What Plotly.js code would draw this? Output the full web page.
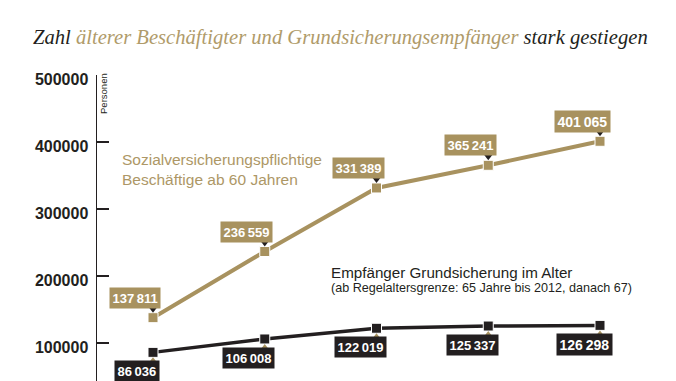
<!DOCTYPE html>
<html><head><meta charset="utf-8">
<script src="https://cdn.plot.ly/plotly-3.0.1.min.js"></script>
<style>html,body{margin:0;padding:0;background:#fff}</style>
</head><body><div id="chart" style="width:676px;height:381px"></div>
<script>
// Data
const categories = ['P1', 'P2', 'P3', 'P4', 'P5'];
const beschaeftigte = [137811, 236559, 331389, 365241, 401065];
const grundsicherung = [86036, 106008, 122019, 125337, 126298];
const yTickVals = [100000, 200000, 300000, 400000, 500000];
const yTickText = ['100000', '200000', '300000', '400000', '500000'];

const GOLD = '#a8925f';
const GOLD_TXT = '#ad9766';
const BLACK = '#231f20';
const SANS = '"Liberation Sans", Arial, sans-serif';

const W = 676, H = 381, ML = 97, MT = 75, MB = 0, MR = 0;
const yMin = 43300, yMax = 500000;
const plotH = H - MT - MB;
const unitsPerPx = (yMax - yMin) / plotH;
const xIdx = categories.map((c, i) => i);

function fmt(v) {
  const s = String(v);
  return s.slice(0, s.length - 3) + '\u2009' + s.slice(-3);
}

const traces = [
  {x: xIdx, y: beschaeftigte, mode: 'lines', line: {color: GOLD, width: 4}, hoverinfo: 'skip'},
  {x: xIdx, y: grundsicherung, mode: 'lines', line: {color: BLACK, width: 3.5}, hoverinfo: 'skip'},
  {x: xIdx, y: beschaeftigte, mode: 'markers', marker: {symbol: 'square', size: 10, color: GOLD, line: {color: '#fff', width: 1}}, hoverinfo: 'skip'},
  {x: xIdx, y: grundsicherung, mode: 'markers', marker: {symbol: 'square', size: 10, color: BLACK, line: {color: '#fff', width: 1}}, hoverinfo: 'skip'},
  {x: xIdx, y: beschaeftigte.map(v => v + 9.5 * unitsPerPx), mode: 'markers', marker: {symbol: 'triangle-down', size: 9, color: BLACK}, hoverinfo: 'skip'},
  {x: xIdx, y: grundsicherung.map(v => v - 9.5 * unitsPerPx), mode: 'markers', marker: {symbol: 'triangle-up', size: 9, color: GOLD}, hoverinfo: 'skip'}
];

const annotations = [];
beschaeftigte.forEach((v, i) => {
  const last = i === beschaeftigte.length - 1;
  annotations.push({
    x: i, y: v, xref: 'x', yref: 'y', showarrow: false,
    text: '<b>' + fmt(v) + '</b>',
    font: {family: SANS, size: last ? 14 : 13, color: '#fff'},
    bgcolor: GOLD, borderpad: 2.5, xshift: -18, yshift: 20
  });
});
grundsicherung.forEach((v, i) => {
  const last = i === grundsicherung.length - 1;
  annotations.push({
    x: i, y: v, xref: 'x', yref: 'y', showarrow: false,
    text: '<b>' + fmt(v) + '</b>',
    font: {family: SANS, size: last ? 14 : 13, color: '#fff'},
    bgcolor: BLACK, borderpad: 2.5, xshift: -16, yshift: -19
  });
});
annotations.push(
  {xref: 'paper', yref: 'paper', x: 0, y: 0.938, xshift: 7, xanchor: 'center', yanchor: 'middle',
   text: 'Personen', textangle: -90, showarrow: false, font: {family: SANS, size: 9.5, color: BLACK}},
  {xref: 'paper', yref: 'paper', x: (120 - ML) / (W - ML - MR), y: 1 - (169 - MT) / plotH, xanchor: 'left', yanchor: 'middle', align: 'left',
   text: 'Sozialversicherungspflichtige<br>Beschäftige ab 60 Jahren', showarrow: false, font: {family: SANS, size: 15.5, color: GOLD_TXT}},
  {xref: 'paper', yref: 'paper', x: (329 - ML) / (W - ML - MR), y: 1 - (272 - MT) / plotH, xanchor: 'left', yanchor: 'middle',
   text: 'Empfänger Grundsicherung im Alter', showarrow: false, font: {family: SANS, size: 15.2, color: BLACK}},
  {xref: 'paper', yref: 'paper', x: (329 - ML) / (W - ML - MR), y: 1 - (288 - MT) / plotH, xanchor: 'left', yanchor: 'middle',
   text: '(ab Regelaltersgrenze: 65 Jahre bis 2012, danach 67)', showarrow: false, font: {family: SANS, size: 12.6, color: BLACK}}
);

const layout = {
  width: W, height: H,
  margin: {l: ML, r: MR, t: MT, b: MB, pad: 0},
  paper_bgcolor: '#fff', plot_bgcolor: '#fff',
  showlegend: false,
  title: {
    text: '<i>Zahl <span style="color:#b09b6a">älterer Beschäftigter und Grundsicherungsempfänger</span> stark gestiegen</i>',
    font: {family: '"Liberation Serif", "DejaVu Serif", serif', size: 20.6, color: BLACK},
    x: 33 / W, xanchor: 'left', xref: 'container', y: 1 - 37 / H, yref: 'container', yanchor: 'middle'
  },
  xaxis: {visible: false, range: [-(153 - ML) / 111.75, 4 + (W - 600) / 111.75], fixedrange: true},
  yaxis: {
    range: [yMin, yMax], tickvals: yTickVals, ticktext: yTickText,
    showgrid: false, zeroline: false, showline: true, linecolor: BLACK, linewidth: 1.5,
    ticks: 'inside', ticklen: 12, tickwidth: 1.5, tickcolor: BLACK,
    tickfont: {family: SANS, size: 16, color: BLACK, weight: 'bold'},
    ticklabelstandoff: 4, ticklabelshift: 4, fixedrange: true
  },
  annotations: annotations
};

Plotly.newPlot('chart', traces, layout, {displayModeBar: false, staticPlot: true});
</script></body></html>
